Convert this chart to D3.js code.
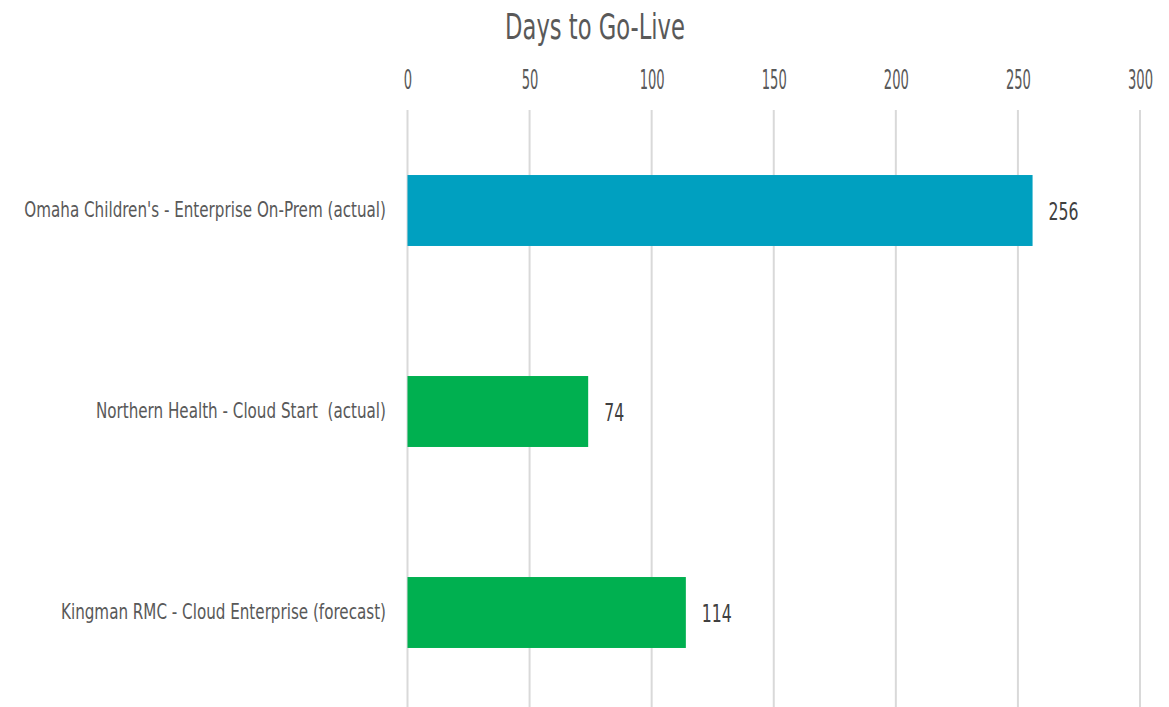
<!DOCTYPE html>
<html><head><meta charset="utf-8">
<script src="https://cdn.jsdelivr.net/npm/d3@7"></script>
<style>
body{margin:0;background:#fff;}
text{font-family:"Liberation Sans Narrow","DejaVu Sans Condensed","Roboto Condensed",sans-serif;}
</style></head>
<body><svg id="c" width="1169" height="707"></svg>
<script>
const categories = ["Omaha Children's - Enterprise On-Prem (actual)","Northern Health - Cloud Start  (actual)","Kingman RMC - Cloud Enterprise (forecast)"];
const values = [256, 74, 114];
const barColors = ["#00A0C0", "#00B050", "#00B050"];
const tickValues = [0, 50, 100, 150, 200, 250, 300];
const title = "Days to Go-Live";

const svg = d3.select("#c");
const x = d3.scaleLinear().domain([0, 300]).range([407.5, 1140]);
const y = d3.scaleBand().domain(categories).range([110, 713]).paddingInner(0.647).paddingOuter(0.3235);

// condensed look: horizontal squeeze of a text selection so that a reference text has a target width
function squeeze(sel, refNode, targetW) {
  const w = refNode.getComputedTextLength();
  const k = targetW / w;
  sel.each(function () {
    const t = d3.select(this);
    const px = +t.attr("x") || 0, py = +t.attr("y") || 0;
    t.attr("x", 0).attr("y", 0).attr("transform", `translate(${px},${py}) scale(${k},1)`);
  });
}

// gridlines
svg.append("g").selectAll("line").data(tickValues).join("line")
  .attr("x1", d => x(d)).attr("x2", d => x(d))
  .attr("y1", 110).attr("y2", 707)
  .attr("stroke", "#d9d9d9").attr("stroke-width", 2);

// top axis labels
const ax = svg.append("g").attr("transform", "translate(0,89)")
  .call(d3.axisTop(x).tickValues(tickValues).tickSize(0).tickPadding(0));
ax.select(".domain").remove();
const tickTexts = ax.selectAll("text").attr("fill", "#595959").style("font-size", "26px").attr("dy", "0");
squeeze(tickTexts, tickTexts.nodes()[2], 25);

// bars
svg.append("g").selectAll("rect").data(values).join("rect")
  .attr("x", x(0)).attr("y", (d, i) => y(categories[i]))
  .attr("width", d => x(d) - x(0)).attr("height", y.bandwidth())
  .attr("fill", (d, i) => barColors[i]);

// value labels
const valTexts = svg.append("g").selectAll("text").data(values).join("text")
  .attr("x", d => x(d) + 16).attr("y", (d, i) => y(categories[i]) + y.bandwidth() / 2 + 9.5)
  .attr("fill", "#404040").style("font-size", "25px")
  .text(d => d);
squeeze(valTexts, valTexts.nodes()[0], 30);

// category labels
const catTexts = svg.append("g").selectAll("text").data(categories).join("text")
  .attr("x", 386).attr("y", d => y(d) + y.bandwidth() / 2 + 6.5)
  .attr("text-anchor", "end").attr("fill", "#595959")
  .style("font-size", "22px").style("white-space", "pre")
  .text(d => d);
squeeze(catTexts, catTexts.nodes()[0], 362);

// title
const titleText = svg.append("text").attr("x", 595).attr("y", 39).attr("text-anchor", "middle")
  .attr("fill", "#595959").style("font-size", "35px").text(title);
squeeze(titleText, titleText.node(), 180);
</script></body></html>
